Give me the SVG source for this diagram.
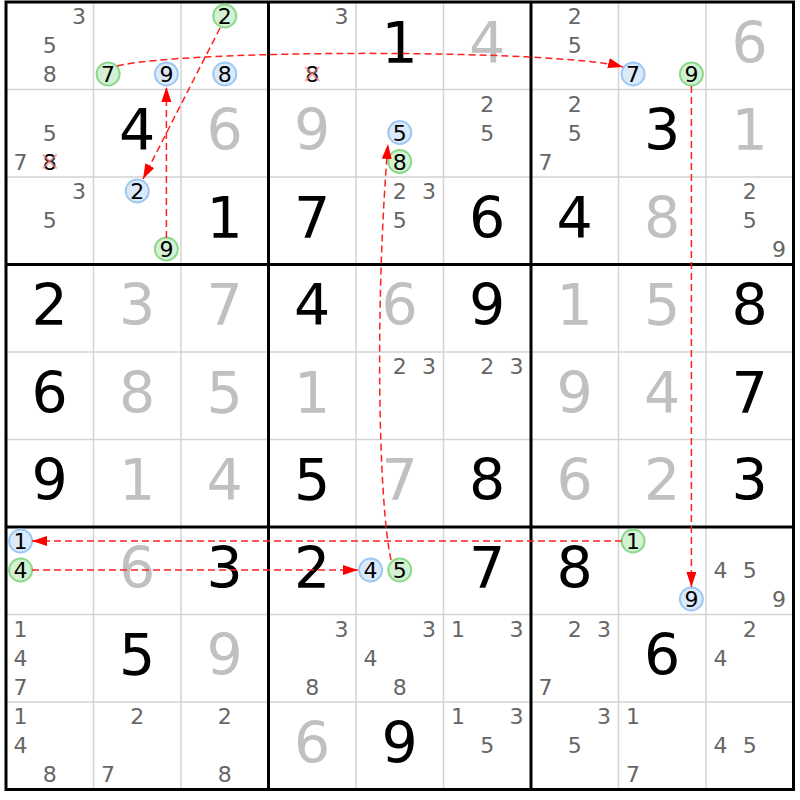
<svg xmlns="http://www.w3.org/2000/svg" width="800" height="800" viewBox="0 0 800 800">
<defs>
<style>
text{font-family:"DejaVu Sans","Verdana",sans-serif;text-anchor:middle}
.g{font-size:57px;fill:#000}
.s{font-size:57px;fill:#c0c0c0}
.c{font-size:22px;fill:#666}
.h{font-size:22px;fill:#000}
.cb{fill:#dbeafb;stroke:#9dc8f2;stroke-width:2}
.cg{fill:#d3f1d3;stroke:#8bd98b;stroke-width:2}
.thin{stroke:#d4d4d4;stroke-width:1.5}
.thick{stroke:#000;stroke-width:3}
.x{stroke:#f08a8a;stroke-width:2;opacity:0.7}
.ln{fill:none;stroke:#ff2020;stroke-width:1.5;stroke-dasharray:7,4;marker-end:url(#ah)}
</style>
<marker id="ah" markerUnits="userSpaceOnUse" markerWidth="16" markerHeight="12" refX="15" refY="5" orient="auto">
<path d="M0,0 L15,5 L0,10 Z" fill="#ff0000" stroke="none"/>
</marker>
</defs>
<rect x="0" y="0" width="800" height="800" fill="#fff"/>
<g id="grid">
<path class="thin" d="M93.5,2V789.5M181,2V789.5M356,2V789.5M443.5,2V789.5M618.5,2V789.5M706,2V789.5M6,89.5H793.5M6,177H793.5M6,352H793.5M6,439.5H793.5M6,614.5H793.5M6,702H793.5"/>
<path class="thick" d="M268.5,2V789.5M531,2V789.5M6,264.5H793.5M6,527H793.5"/>
<rect class="thick" x="6" y="2" width="787.5" height="787.5" fill="none"/>
</g>
<g id="highlights">
<circle class="cg" cx="108.1" cy="74" r="11.5"/>
<circle class="cb" cx="166.4" cy="74" r="11.5"/>
<circle class="cg" cx="224.75" cy="16" r="11.5"/>
<circle class="cb" cx="224.75" cy="74" r="11.5"/>
<circle class="cb" cx="633.1" cy="74" r="11.5"/>
<circle class="cg" cx="691.4" cy="74" r="11.5"/>
<circle class="cb" cx="399.75" cy="132.5" r="11.5"/>
<circle class="cg" cx="399.75" cy="161.5" r="11.5"/>
<circle class="cb" cx="137.25" cy="191" r="11.5"/>
<circle class="cg" cx="166.4" cy="249" r="11.5"/>
<circle class="cb" cx="20.6" cy="541" r="11.5"/>
<circle class="cg" cx="20.6" cy="570" r="11.5"/>
<circle class="cb" cx="370.6" cy="570" r="11.5"/>
<circle class="cg" cx="399.75" cy="570" r="11.5"/>
<circle class="cg" cx="633.1" cy="541" r="11.5"/>
<circle class="cb" cx="691.4" cy="599" r="11.5"/>
</g>
<!-- row 0 -->
<g id="r0c0"><text class="c" x="78.9" y="24">3</text><text class="c" x="49.75" y="53">5</text><text class="c" x="49.75" y="82">8</text></g>
<g id="r0c1"><text class="h" x="108.1" y="82">7</text><text class="h" x="166.4" y="82">9</text></g>
<g id="r0c2"><text class="h" x="224.75" y="24">2</text><text class="h" x="224.75" y="82">8</text></g>
<g id="r0c3"><text class="c" x="341.4" y="24">3</text><text class="h" x="312.25" y="82">8</text></g>
<g id="r0c4"><text class="g" x="399.75" y="62.75">1</text></g>
<g id="r0c5"><text class="s" x="487.25" y="62.75">4</text></g>
<g id="r0c6"><text class="c" x="574.75" y="24">2</text><text class="c" x="574.75" y="53">5</text></g>
<g id="r0c7"><text class="h" x="633.1" y="82">7</text><text class="h" x="691.4" y="82">9</text></g>
<g id="r0c8"><text class="s" x="749.75" y="62.75">6</text></g>
<!-- row 1 -->
<g id="r1c0"><text class="c" x="49.75" y="140.5">5</text><text class="c" x="20.6" y="169.5">7</text><text class="h" x="49.75" y="169.5">8</text></g>
<g id="r1c1"><text class="g" x="137.25" y="150.25">4</text></g>
<g id="r1c2"><text class="s" x="224.75" y="150.25">6</text></g>
<g id="r1c3"><text class="s" x="312.25" y="150.25">9</text></g>
<g id="r1c4"><text class="h" x="399.75" y="140.5">5</text><text class="h" x="399.75" y="169.5">8</text></g>
<g id="r1c5"><text class="c" x="487.25" y="111.5">2</text><text class="c" x="487.25" y="140.5">5</text></g>
<g id="r1c6"><text class="c" x="574.75" y="111.5">2</text><text class="c" x="574.75" y="140.5">5</text><text class="c" x="545.6" y="169.5">7</text></g>
<g id="r1c7"><text class="g" x="662.25" y="150.25">3</text></g>
<g id="r1c8"><text class="s" x="749.75" y="150.25">1</text></g>
<!-- row 2 -->
<g id="r2c0"><text class="c" x="78.9" y="199">3</text><text class="c" x="49.75" y="228">5</text></g>
<g id="r2c1"><text class="h" x="137.25" y="199">2</text><text class="h" x="166.4" y="257">9</text></g>
<g id="r2c2"><text class="g" x="224.75" y="237.75">1</text></g>
<g id="r2c3"><text class="g" x="312.25" y="237.75">7</text></g>
<g id="r2c4"><text class="c" x="399.75" y="199">2</text><text class="c" x="428.9" y="199">3</text><text class="c" x="399.75" y="228">5</text></g>
<g id="r2c5"><text class="g" x="487.25" y="237.75">6</text></g>
<g id="r2c6"><text class="g" x="574.75" y="237.75">4</text></g>
<g id="r2c7"><text class="s" x="662.25" y="237.75">8</text></g>
<g id="r2c8"><text class="c" x="749.75" y="199">2</text><text class="c" x="749.75" y="228">5</text><text class="c" x="778.9" y="257">9</text></g>
<!-- row 3 -->
<g id="r3c0"><text class="g" x="49.75" y="325.25">2</text></g>
<g id="r3c1"><text class="s" x="137.25" y="325.25">3</text></g>
<g id="r3c2"><text class="s" x="224.75" y="325.25">7</text></g>
<g id="r3c3"><text class="g" x="312.25" y="325.25">4</text></g>
<g id="r3c4"><text class="s" x="399.75" y="325.25">6</text></g>
<g id="r3c5"><text class="g" x="487.25" y="325.25">9</text></g>
<g id="r3c6"><text class="s" x="574.75" y="325.25">1</text></g>
<g id="r3c7"><text class="s" x="662.25" y="325.25">5</text></g>
<g id="r3c8"><text class="g" x="749.75" y="325.25">8</text></g>
<!-- row 4 -->
<g id="r4c0"><text class="g" x="49.75" y="412.75">6</text></g>
<g id="r4c1"><text class="s" x="137.25" y="412.75">8</text></g>
<g id="r4c2"><text class="s" x="224.75" y="412.75">5</text></g>
<g id="r4c3"><text class="s" x="312.25" y="412.75">1</text></g>
<g id="r4c4"><text class="c" x="399.75" y="374">2</text><text class="c" x="428.9" y="374">3</text></g>
<g id="r4c5"><text class="c" x="487.25" y="374">2</text><text class="c" x="516.4" y="374">3</text></g>
<g id="r4c6"><text class="s" x="574.75" y="412.75">9</text></g>
<g id="r4c7"><text class="s" x="662.25" y="412.75">4</text></g>
<g id="r4c8"><text class="g" x="749.75" y="412.75">7</text></g>
<!-- row 5 -->
<g id="r5c0"><text class="g" x="49.75" y="500.25">9</text></g>
<g id="r5c1"><text class="s" x="137.25" y="500.25">1</text></g>
<g id="r5c2"><text class="s" x="224.75" y="500.25">4</text></g>
<g id="r5c3"><text class="g" x="312.25" y="500.25">5</text></g>
<g id="r5c4"><text class="s" x="399.75" y="500.25">7</text></g>
<g id="r5c5"><text class="g" x="487.25" y="500.25">8</text></g>
<g id="r5c6"><text class="s" x="574.75" y="500.25">6</text></g>
<g id="r5c7"><text class="s" x="662.25" y="500.25">2</text></g>
<g id="r5c8"><text class="g" x="749.75" y="500.25">3</text></g>
<!-- row 6 -->
<g id="r6c0"><text class="h" x="20.6" y="549">1</text><text class="h" x="20.6" y="578">4</text></g>
<g id="r6c1"><text class="s" x="137.25" y="587.75">6</text></g>
<g id="r6c2"><text class="g" x="224.75" y="587.75">3</text></g>
<g id="r6c3"><text class="g" x="312.25" y="587.75">2</text></g>
<g id="r6c4"><text class="h" x="370.6" y="578">4</text><text class="h" x="399.75" y="578">5</text></g>
<g id="r6c5"><text class="g" x="487.25" y="587.75">7</text></g>
<g id="r6c6"><text class="g" x="574.75" y="587.75">8</text></g>
<g id="r6c7"><text class="h" x="633.1" y="549">1</text><text class="h" x="691.4" y="607">9</text></g>
<g id="r6c8"><text class="c" x="720.6" y="578">4</text><text class="c" x="749.75" y="578">5</text><text class="c" x="778.9" y="607">9</text></g>
<!-- row 7 -->
<g id="r7c0"><text class="c" x="20.6" y="636.5">1</text><text class="c" x="20.6" y="665.5">4</text><text class="c" x="20.6" y="694.5">7</text></g>
<g id="r7c1"><text class="g" x="137.25" y="675.25">5</text></g>
<g id="r7c2"><text class="s" x="224.75" y="675.25">9</text></g>
<g id="r7c3"><text class="c" x="341.4" y="636.5">3</text><text class="c" x="312.25" y="694.5">8</text></g>
<g id="r7c4"><text class="c" x="428.9" y="636.5">3</text><text class="c" x="370.6" y="665.5">4</text><text class="c" x="399.75" y="694.5">8</text></g>
<g id="r7c5"><text class="c" x="458.1" y="636.5">1</text><text class="c" x="516.4" y="636.5">3</text></g>
<g id="r7c6"><text class="c" x="574.75" y="636.5">2</text><text class="c" x="603.9" y="636.5">3</text><text class="c" x="545.6" y="694.5">7</text></g>
<g id="r7c7"><text class="g" x="662.25" y="675.25">6</text></g>
<g id="r7c8"><text class="c" x="749.75" y="636.5">2</text><text class="c" x="720.6" y="665.5">4</text></g>
<!-- row 8 -->
<g id="r8c0"><text class="c" x="20.6" y="724">1</text><text class="c" x="20.6" y="753">4</text><text class="c" x="49.75" y="782">8</text></g>
<g id="r8c1"><text class="c" x="137.25" y="724">2</text><text class="c" x="108.1" y="782">7</text></g>
<g id="r8c2"><text class="c" x="224.75" y="724">2</text><text class="c" x="224.75" y="782">8</text></g>
<g id="r8c3"><text class="s" x="312.25" y="762.75">6</text></g>
<g id="r8c4"><text class="g" x="399.75" y="762.75">9</text></g>
<g id="r8c5"><text class="c" x="458.1" y="724">1</text><text class="c" x="516.4" y="724">3</text><text class="c" x="487.25" y="753">5</text></g>
<g id="r8c6"><text class="c" x="603.9" y="724">3</text><text class="c" x="574.75" y="753">5</text></g>
<g id="r8c7"><text class="c" x="633.1" y="724">1</text><text class="c" x="633.1" y="782">7</text></g>
<g id="r8c8"><text class="c" x="720.6" y="753">4</text><text class="c" x="749.75" y="753">5</text></g>
<g id="eliminations">
<path class="x" d="M305.25,67L319.25,81M319.25,67L305.25,81M42.75,154.5L56.75,168.5M56.75,154.5L42.75,168.5"/>
</g>
<g id="connectors">
<path class="ln" d="M117,66 C187,49 557,49 623,67"/>
<path class="ln" d="M220,28 L143,179"/>
<path class="ln" d="M166.4,238 L166.4,87"/>
<path class="ln" d="M391,560 C378,500 375,300 388,144"/>
<path class="ln" d="M691.4,86 L691.4,587"/>
<path class="ln" d="M622,541 L32,541"/>
<path class="ln" d="M32,570 L358,570"/>
</g>
</svg>
